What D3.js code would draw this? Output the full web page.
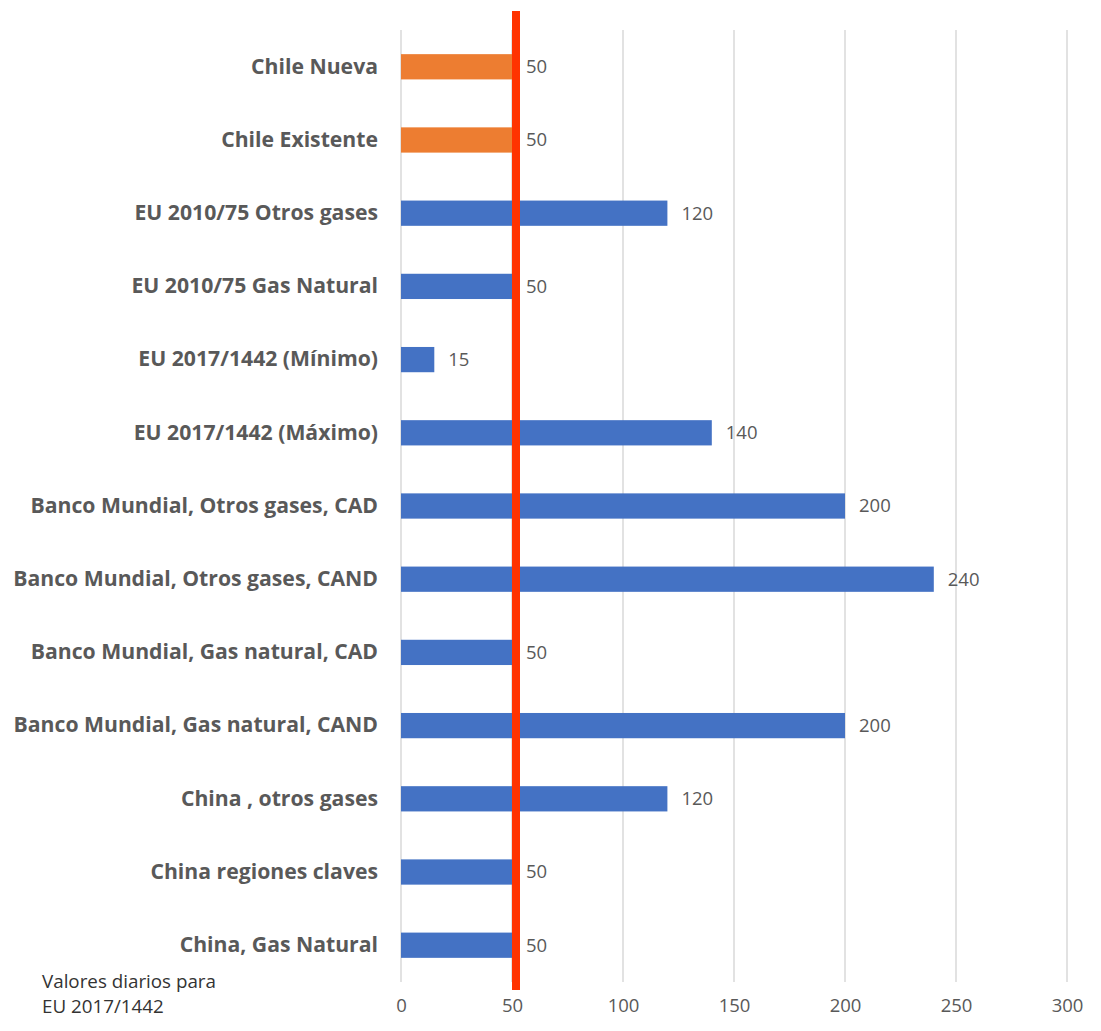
<!DOCTYPE html>
<html>
<head>
<meta charset="utf-8">
<script src="https://cdn.jsdelivr.net/npm/d3@7"></script>
<style>
  html, body { margin: 0; padding: 0; background: #fff; }
  svg { display: block; }
</style>
</head>
<body>
<svg id="chart" width="1101" height="1031"></svg>
<script>
// Categories, top to bottom
const categories = [
  "Chile Nueva",
  "Chile Existente",
  "EU 2010/75 Otros gases",
  "EU 2010/75 Gas Natural",
  "EU 2017/1442 (Mínimo)",
  "EU 2017/1442 (Máximo) ",
  "Banco Mundial, Otros gases, CAD",
  "Banco Mundial, Otros gases, CAND",
  "Banco Mundial, Gas natural, CAD",
  "Banco Mundial, Gas natural, CAND",
  "China , otros gases",
  "China regiones claves",
  "China, Gas Natural"
];
const values = [50, 50, 120, 50, 15, 140, 200, 240, 50, 200, 120, 50, 50];
const groups = ["chile", "chile", "other", "other", "other", "other", "other", "other", "other", "other", "other", "other", "other"];
const xTicks = [0, 50, 100, 150, 200, 250, 300];
const referenceValue = 50;
const noteLines = ["Valores diarios para", "EU 2017/1442"];

const colors = { chile: "#ED7D31", other: "#4472C4" };
const font = "'Open Sans', sans-serif";

const svg = d3.select("#chart");
const plot = { left: 401, right: 1067, top: 30, bottom: 982 };

const x = d3.scaleLinear().domain([0, 300]).range([plot.left, plot.right]);
const y = d3.scaleBand().domain(categories).range([plot.top, plot.bottom]).paddingInner(0.655).paddingOuter(0.33);

// Vertical gridlines
svg.append("g")
  .selectAll("line")
  .data(xTicks)
  .join("line")
  .attr("x1", d => x(d)).attr("x2", d => x(d))
  .attr("y1", plot.top).attr("y2", plot.bottom)
  .attr("stroke", "#d9d9d9").attr("stroke-width", 1.5);

// X axis tick labels
const xAxis = d3.axisBottom(x).tickValues(xTicks).tickSize(0).tickPadding(0);
const gx = svg.append("g").attr("transform", `translate(0,${plot.bottom + 17})`).call(xAxis);
gx.select(".domain").remove();
gx.selectAll("text")
  .attr("font-family", font)
  .attr("font-size", 18.5)
  .attr("fill", "#595959")
  .attr("dy", "0.71em");

// Bars
svg.append("g")
  .selectAll("rect")
  .data(categories)
  .join("rect")
  .attr("x", x(0))
  .attr("y", d => y(d))
  .attr("width", (d, i) => x(values[i]) - x(0))
  .attr("height", y.bandwidth())
  .attr("fill", (d, i) => colors[groups[i]]);

// Category labels
const yAxis = d3.axisLeft(y).tickSize(0).tickPadding(23);
const gy = svg.append("g").attr("transform", `translate(${plot.left},0)`).call(yAxis);
gy.select(".domain").remove();
gy.selectAll("text")
  .attr("font-family", font)
  .attr("font-weight", "bold")
  .attr("font-size", 21.2)
  .attr("fill", "#595959");

// Value labels
svg.append("g")
  .selectAll("text")
  .data(categories)
  .join("text")
  .attr("x", (d, i) => x(values[i]) + 14)
  .attr("y", d => y(d) + y.bandwidth() / 2)
  .attr("dy", "0.35em")
  .attr("font-family", font)
  .attr("font-size", 18.5)
  .attr("fill", "#595959")
  .text((d, i) => values[i]);

// Reference line at the daily value
svg.append("rect")
  .attr("x", x(referenceValue))
  .attr("y", 11)
  .attr("width", 8)
  .attr("height", 990 - 11)
  .attr("fill", "#FF3300");

// Note
svg.append("g")
  .selectAll("text")
  .data(noteLines)
  .join("text")
  .attr("x", 42)
  .attr("y", (d, i) => 988 + i * 25)
  .attr("font-family", font)
  .attr("font-size", 18.8)
  .attr("fill", "#333")
  .text(d => d);
</script>
</body>
</html>
